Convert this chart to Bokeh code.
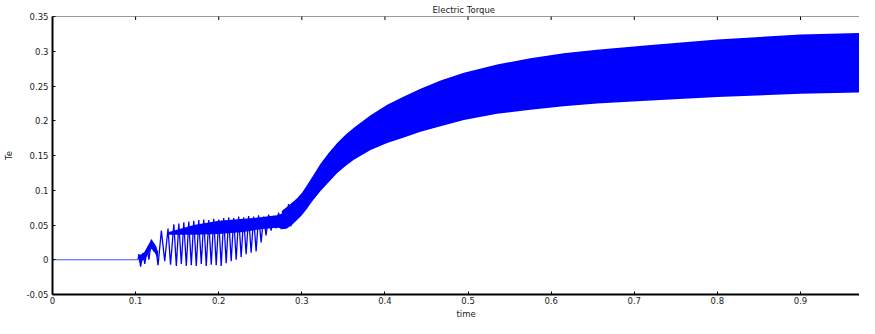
import math
from bokeh.plotting import figure
from bokeh.models import FixedTicker, CustomJSTickFormatter, Range1d, Span, Title
from bokeh.embed import file_html
from bokeh.resources import INLINE

# ---- data ----
x_ticks = [0, 0.1, 0.2, 0.3, 0.4, 0.5, 0.6, 0.7, 0.8, 0.9]
y_ticks = [-0.05, 0, 0.05, 0.1, 0.15, 0.2, 0.25, 0.3, 0.35]

# flat (zero) part before the transient
flat_t = [0.0, 0.103]
flat_v = [0.0, 0.0]

# transient oscillation: alternating peaks / troughs
trans_t = [0.103, 0.104, 0.106, 0.109, 0.111, 0.114, 0.116, 0.119, 0.122, 0.124, 0.127,
           0.131, 0.135, 0.139, 0.142, 0.146, 0.149, 0.152, 0.155, 0.158, 0.161,
           0.164, 0.167, 0.170, 0.173, 0.176, 0.179, 0.182, 0.185, 0.188, 0.191,
           0.194, 0.197, 0.200, 0.203, 0.206, 0.209, 0.212, 0.215, 0.218, 0.221,
           0.224, 0.227, 0.230, 0.233, 0.236, 0.239, 0.242, 0.245, 0.248, 0.251,
           0.254, 0.257, 0.260, 0.263, 0.266, 0.269, 0.272, 0.275, 0.278, 0.281,
           0.284, 0.287]
trans_v = [0.0, 0.008, -0.010, 0.010, -0.006, 0.015, 0.000, 0.029, 0.012, 0.020, -0.008,
           0.042, -0.002, 0.045, -0.007, 0.051, -0.009, 0.052, -0.006, 0.054, -0.009,
           0.055, -0.008, 0.056, -0.009, 0.057, -0.006, 0.058, -0.009, 0.057, -0.007,
           0.059, -0.008, 0.058, -0.009, 0.060, -0.005, 0.061, -0.002, 0.060, 0.000,
           0.062, 0.004, 0.061, 0.008, 0.063, 0.010, 0.062, 0.012, 0.064, 0.025,
           0.062, 0.035, 0.065, 0.042, 0.063, 0.045, 0.068, 0.044, 0.072, 0.045,
           0.080, 0.048]

# smooth hump at the start of the transient
hump_t = [0.104, 0.110, 0.115, 0.119, 0.123, 0.127]
hump_lo = [-0.004, 0.000, 0.008, 0.016, 0.010, 0.002]
hump_hi = [0.006, 0.010, 0.021, 0.029, 0.023, 0.012]

# dense core of the transient
core_t = [0.140, 0.170, 0.200, 0.230, 0.250, 0.270, 0.280]
core_lo = [0.036, 0.036, 0.037, 0.040, 0.044, 0.046, 0.045]
core_hi = [0.040, 0.050, 0.056, 0.059, 0.061, 0.064, 0.068]

# envelope of the fast oscillation after the transient
env_t = [0.276, 0.282, 0.288, 0.294, 0.300, 0.306, 0.3125, 0.3225, 0.3325,
         0.3426, 0.3526, 0.3626, 0.3827, 0.4027, 0.4228, 0.4428, 0.4669, 0.495, 0.535,
         0.575, 0.615, 0.655, 0.72, 0.80, 0.90, 0.99]
env_hi = [0.070, 0.076, 0.082, 0.088, 0.096, 0.107, 0.119, 0.138, 0.154,
          0.168, 0.180, 0.190, 0.208, 0.223, 0.235, 0.246, 0.258, 0.269, 0.281,
          0.290, 0.297, 0.302, 0.309, 0.317, 0.324, 0.327]
env_lo = [0.044, 0.045, 0.050, 0.057, 0.064, 0.073, 0.084, 0.099, 0.112,
          0.125, 0.135, 0.144, 0.158, 0.168, 0.176, 0.184, 0.192, 0.201, 0.210,
          0.216, 0.221, 0.225, 0.229, 0.234, 0.239, 0.241]

FONT = "DejaVu Sans"
FS = "8.5px"
TXT = "#222222"

p = figure(width=859, height=318,
           x_range=Range1d(0, 0.971), y_range=Range1d(y_ticks[0], y_ticks[-1]),
           output_backend="svg", toolbar_location=None, title=None,
           min_border_left=52, min_border_right=0, min_border_top=16, min_border_bottom=0)
p.outline_line_color = None
p.xgrid.visible = False
p.ygrid.visible = False
p.background_fill_color = "white"

fmt = CustomJSTickFormatter(code="return tick.toString();")

for ax in (p.xaxis[0], p.yaxis[0]):
    ax.major_tick_in = 3
    ax.major_tick_out = 0
    ax.minor_tick_in = 0
    ax.minor_tick_out = 0
    ax.axis_line_width = 2
    ax.axis_line_color = "black"
    ax.major_tick_line_color = "black"
    ax.major_tick_line_width = 1
    ax.major_label_text_font = FONT
    ax.major_label_text_font_size = FS
    ax.major_label_text_color = TXT
    ax.axis_label_text_font = FONT
    ax.axis_label_text_font_size = FS
    ax.axis_label_text_font_style = "normal"
    ax.axis_label_text_color = TXT
    ax.formatter = fmt

p.xaxis[0].ticker = FixedTicker(ticks=x_ticks)
p.yaxis[0].ticker = FixedTicker(ticks=y_ticks)
p.xaxis[0].major_label_standoff = 2
p.yaxis[0].axis_label = "Te"
p.yaxis[0].major_label_standoff = 4
p.yaxis[0].axis_label_standoff = 10

# top frame line and inward ticks
p.add_layout(Span(location=y_ticks[-1], dimension="width", line_color="#333333", line_width=1))
p.scatter(x=x_ticks, y=[y_ticks[-1]] * len(x_ticks), marker="dash", angle=math.pi / 2,
          size=7, line_color="black", line_width=1)

# title (above) and x label (below), shifted to be centred on the full 0..1 axis
p.add_layout(Title(text="Electric Torque", text_font=FONT, text_font_size=FS,
                   text_font_style="normal", text_color=TXT, align="left",
                   offset=380, standoff=3), "above")
p.add_layout(Title(text="time", text_font=FONT, text_font_size=FS,
                   text_font_style="normal", text_color=TXT, align="left",
                   offset=404, standoff=0), "below")

p.line(flat_t, flat_v, color="blue", line_width=1, alpha=0.7)
p.varea(x=hump_t, y1=hump_lo, y2=hump_hi, color="blue")
p.varea(x=core_t, y1=core_lo, y2=core_hi, color="blue")
p.line(trans_t, trans_v, color="blue", line_width=1.3)
p.varea(x=env_t, y1=env_lo, y2=env_hi, color="blue")

open("out.html", "w").write(file_html(p, INLINE))
